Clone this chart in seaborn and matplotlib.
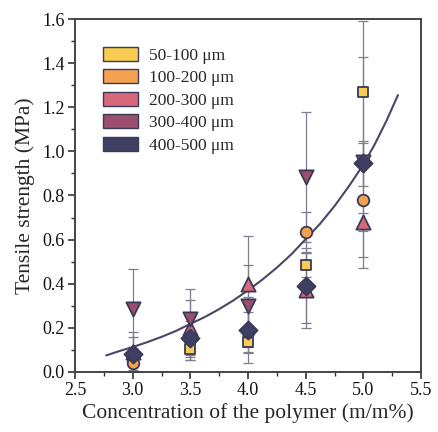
import numpy as np
import pandas as pd
import matplotlib
matplotlib.use("Agg")
import matplotlib.pyplot as plt
from matplotlib.patches import Patch
from matplotlib.ticker import MultipleLocator, FormatStrFormatter
import seaborn as sns

# polymer concentration (m/m%)
conc = [3.0, 3.5, 4.0, 4.5, 5.0]

# tensile strength (MPa) and error per fibre size range
ts_50_100 = [0.06, 0.105, 0.135, 0.485, 1.27]
err_50_100 = [0.05, 0.05, 0.05, 0.055, 0.32]
ts_100_200 = [0.04, 0.15, 0.18, 0.635, 0.78]
err_100_200 = [0.04, 0.08, 0.09, 0.09, 0.26]
ts_200_300 = [0.09, 0.20, 0.40, 0.37, 0.68]
err_200_300 = [0.09, 0.125, 0.215, 0.17, 0.04]
ts_300_400 = [0.285, 0.24, 0.30, 0.885, 0.95]
err_300_400 = [0.18, 0.135, 0.185, 0.295, 0.48]
ts_400_500 = [0.08, 0.155, 0.19, 0.39, 0.945]
err_400_500 = [0.08, 0.10, 0.15, 0.17, 0.10]

labels = ["50-100 \u03bcm", "100-200 \u03bcm", "200-300 \u03bcm", "300-400 \u03bcm", "400-500 \u03bcm"]

# fitted trend line
fit_x = [2.77, 2.875, 3.0, 3.125, 3.25, 3.375, 3.5, 3.625, 3.75, 3.875, 4.0,
         4.125, 4.25, 4.375, 4.5, 4.625, 4.75, 4.875, 5.0, 5.1, 5.2, 5.3]
fit_y = [0.075, 0.093, 0.113, 0.135, 0.159, 0.186, 0.218, 0.249, 0.285, 0.325, 0.37,
         0.419, 0.473, 0.533, 0.602, 0.672, 0.752, 0.842, 0.94, 1.033, 1.138, 1.255]

colors = ["#F8CB52", "#F4A152", "#D8697A", "#9C4E6E", "#3F3F63"]
markers = ["s", "o", "^", "v", "D"]
sizes = [50, 70, 105, 105, 85]
edge = "#3a3a58"

series = [
    (ts_50_100, err_50_100),
    (ts_100_200, err_100_200),
    (ts_200_300, err_200_300),
    (ts_300_400, err_300_400),
    (ts_400_500, err_400_500),
]

sns.set_theme(style="ticks")
plt.rcParams["font.family"] = ["Liberation Serif", "DejaVu Serif"]

fig = plt.figure(figsize=(4.39, 4.32), dpi=100)
ax = fig.add_axes([0.171, 0.139, 0.788, 0.817])

# error bars first
for vals, errs in series:
    ax.errorbar(conc, vals, yerr=errs, fmt="none", ecolor="#7d7d92",
                elinewidth=0.9, capsize=3.5, capthick=0.9, zorder=1)

fit_df = pd.DataFrame({"x": fit_x, "y": fit_y})
sns.lineplot(data=fit_df, x="x", y="y", ax=ax, color="#4e4564", lw=1.5,
             zorder=2, sort=True)

for (vals, errs), lab, c, m, s in zip(series, labels, colors, markers, sizes):
    df = pd.DataFrame({"x": conc, "y": vals})
    sns.scatterplot(data=df, x="x", y="y", ax=ax, marker=m, s=s, color=c,
                    edgecolor=edge, linewidth=1.3, zorder=3, legend=False)

ax.set_xlim(2.5, 5.5)
ax.set_ylim(0.0, 1.6)
ax.xaxis.set_major_locator(MultipleLocator(0.5))
ax.xaxis.set_minor_locator(MultipleLocator(0.25))
ax.yaxis.set_major_locator(MultipleLocator(0.2))
ax.yaxis.set_minor_locator(MultipleLocator(0.1))
ax.xaxis.set_major_formatter(FormatStrFormatter("%.1f"))
ax.yaxis.set_major_formatter(FormatStrFormatter("%.1f"))
ax.tick_params(which="major", direction="out", length=5, width=1.2,
               labelsize=13, colors="#333333", labelcolor="#111111", pad=2.5)
ax.tick_params(which="minor", direction="out", length=3, width=1.0, colors="#333333")
for sp in ax.spines.values():
    sp.set_linewidth(1.4)
    sp.set_color("#444444")

ax.set_xlabel("Concentration of the polymer (m/m%)", fontsize=15.5, labelpad=3)
ax.set_ylabel("Tensile strength (MPa)", fontsize=15.5, labelpad=5)

handles = [Patch(facecolor=c, edgecolor=edge, linewidth=1.0, label=l)
           for c, l in zip(colors, labels)]
ax.legend(handles=handles, loc="upper left", frameon=False, fontsize=12.5,
          handlelength=2.0, handleheight=0.85, handletextpad=0.6,
          labelspacing=0.32, bbox_to_anchor=(0.037, 0.965))

fig.savefig("out.png", dpi=100)
